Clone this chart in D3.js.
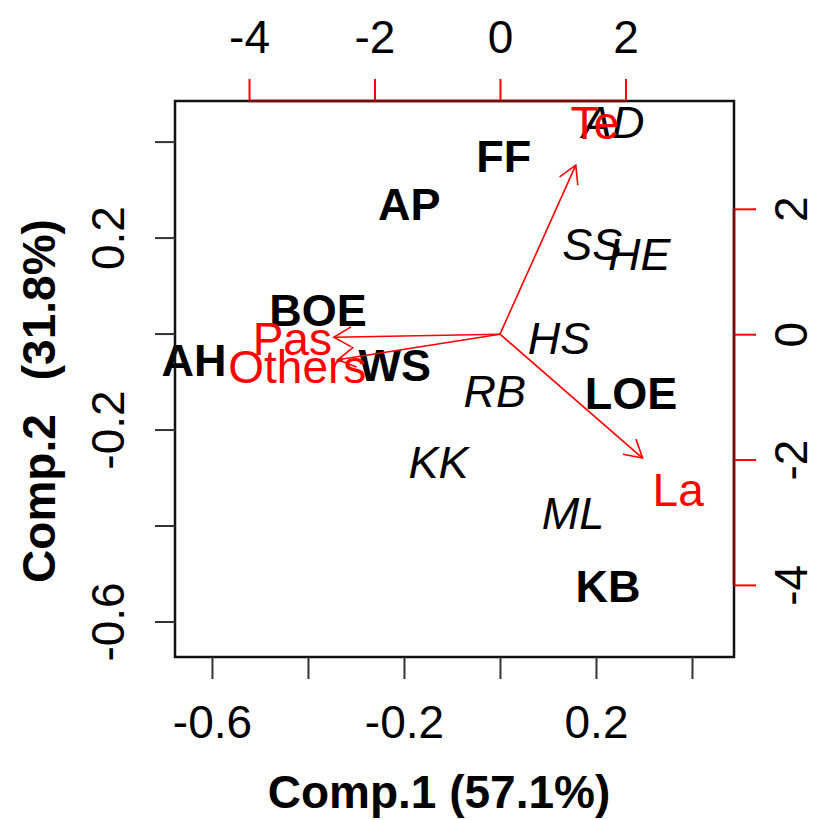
<!DOCTYPE html>
<html>
<head>
<meta charset="utf-8">
<script src="https://cdn.jsdelivr.net/npm/d3@7"></script>
<style>
  body { margin: 0; background: #fff; }
  svg text { font-family: "Liberation Sans", Arial, Helvetica, sans-serif; }
</style>
</head>
<body>
<svg id="chart" width="816" height="820"></svg>
<script>
// Site scores on the first two principal components
const sites  = ["AD", "FF", "AP", "SS", "HE", "BOE", "HS", "AH", "WS", "RB", "LOE", "KK", "ML", "KB"];
const comp1  = [0.236, 0.008, -0.189, 0.192, 0.290, -0.379, 0.123, -0.6375, -0.219, -0.011, 0.273, -0.128, 0.152, 0.225];
const comp2  = [0.442, 0.370, 0.270, 0.187, 0.166, 0.049, -0.009, -0.055, -0.065, -0.120, -0.124, -0.267, -0.374, -0.525];
// Site group: 1 = group one (bold labels), 2 = group two (italic labels)
const siteGroup = [2, 1, 1, 2, 2, 1, 2, 1, 1, 2, 1, 2, 2, 1];

// Variable loadings (label positions; arrows are drawn to 80 % of these)
const variables = ["Te", "La", "Pas", "Others"];
const load1 = [1.51, 2.84, -3.31, -3.23];
const load2 = [3.37, -2.47, -0.06, -0.51];

// Axis ticks
const scoreTicks = [-0.6, -0.4, -0.2, 0, 0.2, 0.4];
const scoreTickLabels = ["-0.6", "", "-0.2", "", "0.2", ""];
const loadTicks = [-4, -2, 0, 2];
const loadTickLabels = ["-4", "-2", "0", "2"];

const xTitle = "Comp.1 (57.1%)";
const yTitle = ["Comp.2", "(31.8%)"];

const svg = d3.select("#chart");
const L = 175, R = 734, T = 101, B = 657;
const fsAxis = 46, fsLab = 45;
const red = "#ff0000";

// Score scales (bottom / left) and loading scales (top / right)
const x = d3.scaleLinear().domain([-0.677, 0.4875]).range([L, R]);
const y = d3.scaleLinear().domain([-0.674, 0.4846]).range([B, T]);
const xl = d3.scaleLinear().domain([-5.18, 3.73]).range([L, R]);
const yl = d3.scaleLinear().domain([-5.15, 3.72]).range([B, T]);

const labelOf = (vals, labs) => v => labs[vals.indexOf(v)];

// Score labels
svg.append("g").selectAll("text")
  .data(sites.map((s, i) => ({ s, c1: comp1[i], c2: comp2[i], g: siteGroup[i] })))
  .join("text")
  .attr("x", d => x(d.c1))
  .attr("y", d => y(d.c2))
  .attr("dy", "0.36em")
  .attr("text-anchor", "middle")
  .attr("font-size", fsLab)
  .attr("font-weight", d => d.g === 1 ? "bold" : "normal")
  .attr("font-style", d => d.g === 2 ? "italic" : "normal")
  .attr("fill", "#000")
  .text(d => d.s);

// Plot frame
svg.append("rect")
  .attr("x", L).attr("y", T).attr("width", R - L).attr("height", B - T)
  .attr("fill", "none").attr("stroke", "#111").attr("stroke-width", 2.5);

function styleAxis(g, tickColor) {
  g.select(".domain").remove();
  g.selectAll(".tick line").attr("stroke", tickColor).attr("stroke-width", 2);
  g.selectAll(".tick text").attr("fill", "#000").attr("font-size", fsAxis)
    .attr("font-family", "Liberation Sans, Arial, sans-serif");
}

// Bottom axis
const gB = svg.append("g").attr("transform", `translate(0,${B})`)
  .call(d3.axisBottom(x).tickValues(scoreTicks).tickFormat(labelOf(scoreTicks, scoreTickLabels))
    .tickSize(22).tickSizeOuter(0));
styleAxis(gB, "#333");
gB.selectAll(".tick text").attr("y", 81).attr("dy", null);

// Left axis
const gLft = svg.append("g").attr("transform", `translate(${L},0)`)
  .call(d3.axisLeft(y).tickValues(scoreTicks).tickFormat(labelOf(scoreTicks, scoreTickLabels))
    .tickSize(20).tickSizeOuter(0));
styleAxis(gLft, "#333");
gLft.selectAll(".tick text").attr("x", null).attr("dy", null)
  .attr("text-anchor", "middle").attr("transform", "translate(-51,0) rotate(-90)");

// Top axis (loadings)
const gTop = svg.append("g").attr("transform", `translate(0,${T})`)
  .call(d3.axisTop(xl).tickValues(loadTicks).tickFormat(labelOf(loadTicks, loadTickLabels))
    .tickSize(22).tickSizeOuter(0));
styleAxis(gTop, red);
gTop.selectAll(".tick text").attr("y", -48).attr("dy", null);
gTop.append("line")
  .attr("x1", xl(loadTicks[0])).attr("x2", xl(loadTicks[loadTicks.length - 1]))
  .attr("y1", 0).attr("y2", 0)
  .attr("stroke", "#7a0a0a").attr("stroke-width", 2.5);

// Right axis (loadings)
const gRgt = svg.append("g").attr("transform", `translate(${R},0)`)
  .call(d3.axisRight(yl).tickValues(loadTicks).tickFormat(labelOf(loadTicks, loadTickLabels))
    .tickSize(22).tickSizeOuter(0));
styleAxis(gRgt, red);
gRgt.selectAll(".tick text").attr("x", null).attr("dy", null)
  .attr("text-anchor", "middle").attr("transform", "translate(73,0) rotate(-90)");
gRgt.append("line")
  .attr("y1", yl(loadTicks[0])).attr("y2", yl(loadTicks[loadTicks.length - 1]))
  .attr("x1", 0).attr("x2", 0)
  .attr("stroke", "#7a0a0a").attr("stroke-width", 2.5);

// Loading arrows
const ox = xl(0), oy = yl(0);
const headLen = 20, headAng = Math.PI / 6;
const arrows = svg.append("g").attr("fill", "none").attr("stroke", red).attr("stroke-width", 1.6);
variables.forEach((v, i) => {
  const tx = xl(0.8 * load1[i]), ty = yl(0.8 * load2[i]);
  const th = Math.atan2(ty - oy, tx - ox);
  arrows.append("line").attr("x1", ox).attr("y1", oy).attr("x2", tx).attr("y2", ty);
  const p1 = [tx - headLen * Math.cos(th - headAng), ty - headLen * Math.sin(th - headAng)];
  const p2 = [tx - headLen * Math.cos(th + headAng), ty - headLen * Math.sin(th + headAng)];
  arrows.append("path").attr("d", `M${p1[0]},${p1[1]}L${tx},${ty}L${p2[0]},${p2[1]}`);
});

// Loading labels
svg.append("g").selectAll("text")
  .data(variables.map((v, i) => ({ v, a: load1[i], b: load2[i] })))
  .join("text")
  .attr("x", d => xl(d.a))
  .attr("y", d => yl(d.b))
  .attr("dy", "0.36em")
  .attr("text-anchor", "middle")
  .attr("font-size", fsAxis)
  .attr("fill", red)
  .text(d => d.v);

// Axis titles
svg.append("text")
  .attr("x", 439).attr("y", 808)
  .attr("text-anchor", "middle")
  .attr("font-size", fsAxis).attr("font-weight", "bold")
  .text(xTitle);

const yt = svg.append("text")
  .attr("transform", "translate(55,401) rotate(-90)")
  .attr("text-anchor", "middle")
  .attr("font-size", fsAxis).attr("font-weight", "bold");
yt.append("tspan").text(yTitle[0]);
yt.append("tspan").attr("dx", 34).text(yTitle[1]);
</script>
</body>
</html>
